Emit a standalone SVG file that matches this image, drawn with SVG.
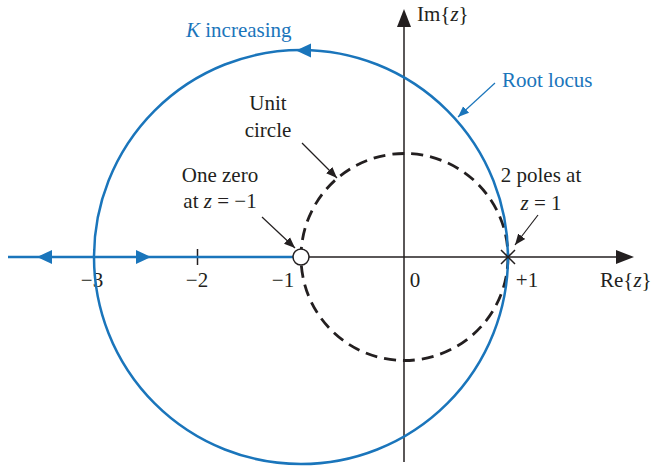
<svg xmlns="http://www.w3.org/2000/svg" width="651" height="468" viewBox="0 0 651 468">
<style>
text{font-family:"Liberation Serif","Times New Roman",serif;font-size:21px;fill:#231f20}
.blue{fill:#1a75bb}
.ax{stroke:#231f20;stroke-width:1.5;fill:none}
.loc{stroke:#1a75bb;stroke-width:2.5;fill:none}
.ptr{stroke:#231f20;stroke-width:1.2;fill:none}
.ptrb{stroke:#1a75bb;stroke-width:1.2;fill:none}
</style>
<defs>
<marker id="ak" viewBox="0 0 10 10" refX="10" refY="5" markerWidth="11" markerHeight="11" markerUnits="userSpaceOnUse" orient="auto"><path d="M0,1 L10,5 L0,9 Z" fill="#231f20"/></marker>
<marker id="ab" viewBox="0 0 10 10" refX="10" refY="5" markerWidth="11" markerHeight="11" markerUnits="userSpaceOnUse" orient="auto"><path d="M0,1 L10,5 L0,9 Z" fill="#1a75bb"/></marker>
</defs>
<g id="axes">
<line class="ax" x1="8" y1="257" x2="620" y2="257"/>
<path d="M634,257 L616,250 L616,264 Z" fill="#231f20"/>
<line class="ax" x1="404" y1="462" x2="404" y2="24"/>
<path d="M404,9 L397,27 L411,27 Z" fill="#231f20"/>
<line class="ax" x1="94" y1="249" x2="94" y2="265"/>
<line class="ax" x1="197.5" y1="249" x2="197.5" y2="265"/>
<text x="92" y="287" text-anchor="middle">−3</text>
<text x="197" y="287" text-anchor="middle">−2</text>
<text x="283" y="287" text-anchor="middle">−1</text>
<text x="415" y="287" text-anchor="middle">0</text>
<text x="527" y="287" text-anchor="middle">+1</text>
<text x="600" y="287">Re{<tspan font-style="italic">z</tspan>}</text>
<text x="417" y="21">Im{<tspan font-style="italic">z</tspan>}</text>
</g>
<g id="unit-circle">
<circle cx="404.5" cy="257" r="103.5" fill="none" stroke="#231f20" stroke-width="2.8" stroke-dasharray="12,7"/>
</g>
<g id="root-locus">
<circle class="loc" cx="301" cy="257" r="207"/>
<line class="loc" x1="8" y1="257" x2="301" y2="257"/>
<path d="M37,257 L52,250 L52,264 Z" fill="#1a75bb"/>
<path d="M151,257 L136,250 L136,264 Z" fill="#1a75bb"/>
<path d="M296,50.5 L311,43.5 L311,57.5 Z" fill="#1a75bb"/>
</g>
<g id="zero">
<circle cx="301" cy="257" r="8" fill="#fff" stroke="#231f20" stroke-width="1.5"/>
</g>
<g id="poles">
<path d="M501,250 L515,264 M515,250 L501,264" stroke="#231f20" stroke-width="1.5"/>
</g>
<g id="connectors">
<line class="ptr" x1="302" y1="143" x2="337" y2="178" marker-end="url(#ak)"/>
<line class="ptr" x1="262" y1="217" x2="295" y2="248" marker-end="url(#ak)"/>
<line class="ptr" x1="538" y1="215" x2="515" y2="245" marker-end="url(#ak)"/>
<line class="ptrb" x1="495" y1="83" x2="458" y2="117" marker-end="url(#ab)"/>
</g>
<g id="labels">
<text class="blue" x="186" y="37"><tspan font-style="italic">K</tspan> increasing</text>
<text class="blue" x="502" y="87">Root locus</text>
<text x="268" y="110" text-anchor="middle">Unit</text>
<text x="268" y="137" text-anchor="middle">circle</text>
<text x="220" y="182" text-anchor="middle">One zero</text>
<text x="220" y="208" text-anchor="middle">at <tspan font-style="italic">z</tspan> = −1</text>
<text x="541" y="182" text-anchor="middle">2 poles at</text>
<text x="541" y="210" text-anchor="middle"><tspan font-style="italic">z</tspan> = 1</text>
</g>
</svg>
